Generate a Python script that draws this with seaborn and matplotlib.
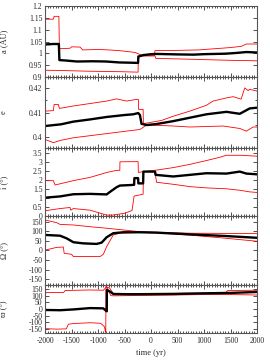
import matplotlib
matplotlib.use("Agg")
import matplotlib.pyplot as plt
import seaborn as sns
from matplotlib.ticker import MultipleLocator, FuncFormatter

# semi-major axis a (AU): mean and upper/lower envelope
a_mid_t = [-2000, -1850, -1740, -1730, -1600, -1400, -1100, -850, -600, -400, -245, -240,
           -150, 0, 100, 500, 800, 1000, 1400, 1600, 1800, 2000]
a_mid = [1.038, 1.040, 1.040, 0.972, 0.970, 0.966, 0.967, 0.966, 0.962, 0.961, 0.960, 0.987,
         0.993, 0.997, 0.998, 0.996, 0.995, 0.997, 0.999, 1.002, 1.006, 1.004]
a_hi_t = [-2000, -1843, -1830, -1740, -1730, -1530, -1500, -1340, -1290, -1000, -800, -600,
          -400, -300, -150, 60, 75, 500, 900, 1200, 1500, 1700, 1800, 2000]
a_hi = [1.145, 1.145, 1.157, 1.157, 1.020, 1.022, 1.028, 1.027, 1.015, 1.017, 1.015, 1.012,
        1.007, 1.004, 0.990, 0.990, 1.012, 1.013, 1.015, 1.020, 1.025, 1.030, 1.040, 1.040]
a_lo_t = [-2000, -1700, -1200, -600, -245, -240, -150, 75, 90, 500, 1000, 1500, 2000]
a_lo = [0.929, 0.928, 0.925, 0.923, 0.921, 0.985, 0.990, 0.990, 0.979, 0.977, 0.974, 0.971, 0.969]

# eccentricity e
e_mid_t = [-2000, -1700, -1466, -1150, -838, -500, -336, -242, -210, -180, -85, 100, 418, 732,
           1046, 1423, 1674, 1862, 2000]
e_mid = [0.4045, 0.4052, 0.4063, 0.4072, 0.4082, 0.4090, 0.4093, 0.4098, 0.4090, 0.4054, 0.4049,
         0.4053, 0.4065, 0.4079, 0.4093, 0.4103, 0.4095, 0.4117, 0.4120]
e_hi_t = [-2000, -1843, -1830, -1749, -1730, -1466, -838, -650, -461, -273, -240, -235, -150,
          -145, -50, 200, 418, 732, 1046, 1171, 1423, 1550, 1700, 1768, 1830, 1862, 2000]
e_hi = [0.4106, 0.4108, 0.4133, 0.4133, 0.4117, 0.4127, 0.4147, 0.4156, 0.4147, 0.4154, 0.4154,
        0.4113, 0.4113, 0.4055, 0.4058, 0.4068, 0.4085, 0.4106, 0.4130, 0.4147, 0.4160, 0.4165,
        0.4155, 0.4201, 0.4190, 0.4195, 0.4188]
e_lo_t = [-2000, -1843, -1717, -1466, -838, -210, -85, 100, 418, 732, 1046, 1360, 1674, 1799,
          1925, 2000]
e_lo = [0.3990, 0.3977, 0.3986, 0.3997, 0.4014, 0.4031, 0.4049, 0.4048, 0.4045, 0.4041, 0.4043,
        0.4045, 0.4035, 0.4024, 0.4041, 0.4041]

# inclination i (deg)
i_mid_t = [-2000, -1717, -1529, -1466, -1152, -838, -775, -650, -587, -367, -320, -315, -245,
           -240, -150, -145, 75, 85, 418, 732, 1046, 1423, 1674, 1799, 2000]
i_mid = [1.01, 1.08, 1.17, 1.20, 1.22, 1.19, 1.33, 1.59, 1.68, 1.71, 1.72, 2.09, 2.09, 1.80,
         1.80, 2.45, 2.45, 2.27, 2.18, 2.27, 2.36, 2.34, 2.45, 2.34, 2.30]
i_hi_t = [-2000, -1843, -1812, -1466, -1152, -838, -650, -590, -587, -245, -240, -150, 72, 418,
          732, 1046, 1297, 1423, 1700, 2000]
i_hi = [1.95, 1.95, 1.71, 1.95, 2.13, 2.40, 2.52, 2.52, 2.99, 3.00, 2.40, 2.45, 2.52, 2.67,
        2.85, 3.06, 3.24, 3.35, 3.35, 3.30]
i_lo_t = [-2000, -1717, -1529, -1516, -1466, -1152, -838, -725, -500, -360, -320, -150, -145,
          72, 104, 418, 732, 1046, 1423, 1674, 1862, 2000]
i_lo = [0.29, 0.41, 0.47, 0.32, 0.41, 0.32, 0.05, 0.05, 0.15, 0.30, 1.10, 1.20, 2.45, 2.45,
        1.86, 1.75, 1.62, 1.55, 1.50, 1.42, 1.33, 1.30]

# longitude of node Omega (deg)
O_mid_t = [-2000, -1717, -1592, -1466, -1278, -1027, -932, -838, -713, -524, -210, 104, 732,
           1360, 2000]
O_mid = [81, 77, 63, 43, 37, 34, 41, 69, 90, 95, 95, 93, 84, 76, 66]
O_hi_t = [-2000, -1780, -1717, -1466, -1152, -838, -524, -210, 104, 732, 1360, 2000]
O_hi = [159, 145, 136, 133, 124, 116, 107, 98, 95, 90, 89, 88]
O_lo_t = [-2000, -1780, -1655, -1640, -1500, -1466, -964, -900, -838, -713, -587, -210, 104,
          732, 1360, 2000]
O_lo = [2, 16, 18, -15, -20, -32, -32, -20, 20, 81, 90, 94, 92, 80, 65, 48]

# longitude of perihelion varpi (deg)
w_mid_t = [-2000, -1717, -1466, -1152, -901, -850, -836, -834, -775, -713, -400, 418, 1046,
           1500, 2000]
w_mid = [-8, -10, -4, 6, 4, -14, -18, 142, 130, 112, 110, 112, 117, 120, 127]
w_hi_t = [-2000, -1650, -1620, -1152, -900, -840, -780, -713, 418, 1400, 1450, 2000]
w_hi = [122, 124, 138, 142, 140, 165, 155, 115, 117, 120, 138, 140]
w_lo_t = [-2000, -1780, -1600, -1560, -1466, -1152, -950, -880, -855, -850, -820, -760, -713,
          418, 1046, 1460, 2000]
w_lo = [-148, -152, -150, -115, -110, -104, -108, -134, -180, 180, 150, 100, 98, 104, 108, 108,
        104]

panels = [
    ("a (AU)", (0.9, 1.2), 0.05, None, (a_lo_t, a_lo), (a_hi_t, a_hi), (a_mid_t, a_mid)),
    ("e", (0.3955, 0.4245), 0.01, 0.005, (e_lo_t, e_lo), (e_hi_t, e_hi), (e_mid_t, e_mid)),
    ("i (°)", (0, 3.75), 0.5, None, (i_lo_t, i_lo), (i_hi_t, i_hi), (i_mid_t, i_mid)),
    ("Ω (°)", (-180, 180), 50, None, (O_lo_t, O_lo), (O_hi_t, O_hi), (O_mid_t, O_mid)),
    ("ϖ (°)", (-180, 180), 50, None, (w_lo_t, w_lo), (w_hi_t, w_hi), (w_mid_t, w_mid)),
]

sns.set_style("ticks")
plt.rcParams["font.family"] = ["Liberation Serif", "DejaVu Serif"]
plt.rcParams["axes.unicode_minus"] = False

fig, axes = plt.subplots(5, 1, sharex=True, figsize=(2.7, 3.63), dpi=100,
                         gridspec_kw={"height_ratios": [71, 71, 68, 69, 48], "hspace": 0})
fig.subplots_adjust(left=0.167, right=0.952, top=0.983, bottom=0.083)

fmt = FuncFormatter(lambda v, p: "%g" % round(v, 6))

for ax, (label, lim, major, minor, lo, hi, mid) in zip(axes, panels):
    sns.lineplot(x=lo[0], y=lo[1], ax=ax, color="#ff0000", lw=0.6, estimator=None, sort=False)
    sns.lineplot(x=hi[0], y=hi[1], ax=ax, color="#ff0000", lw=0.6, estimator=None, sort=False)
    sns.lineplot(x=mid[0], y=mid[1], ax=ax, color="black", lw=1.7, estimator=None, sort=False)
    ax.set_ylim(*lim)
    ax.set_xlim(-2000, 2000)
    ax.yaxis.set_major_locator(MultipleLocator(major))
    if minor:
        ax.yaxis.set_minor_locator(MultipleLocator(minor))
    ax.yaxis.set_major_formatter(fmt)
    ax.xaxis.set_major_locator(MultipleLocator(500))
    ax.xaxis.set_minor_locator(MultipleLocator(50))
    ax.set_ylabel(label, fontsize=6)
    ax.yaxis.set_label_coords(-0.175, 0.5)
    ax.tick_params(which="both", direction="in", top=True, right=True, labelsize=5.5,
                   pad=2, color="#333333", width=0.6)
    ax.tick_params(which="major", length=3)
    ax.tick_params(which="minor", length=1.5)
    for s in ax.spines.values():
        s.set_color("#555555")
        s.set_linewidth(0.8)

axes[-1].set_xlabel("time (yr)", fontsize=6, labelpad=3)
axes[-1].tick_params(axis="x", pad=3)

fig.savefig("out.png", dpi=100)
